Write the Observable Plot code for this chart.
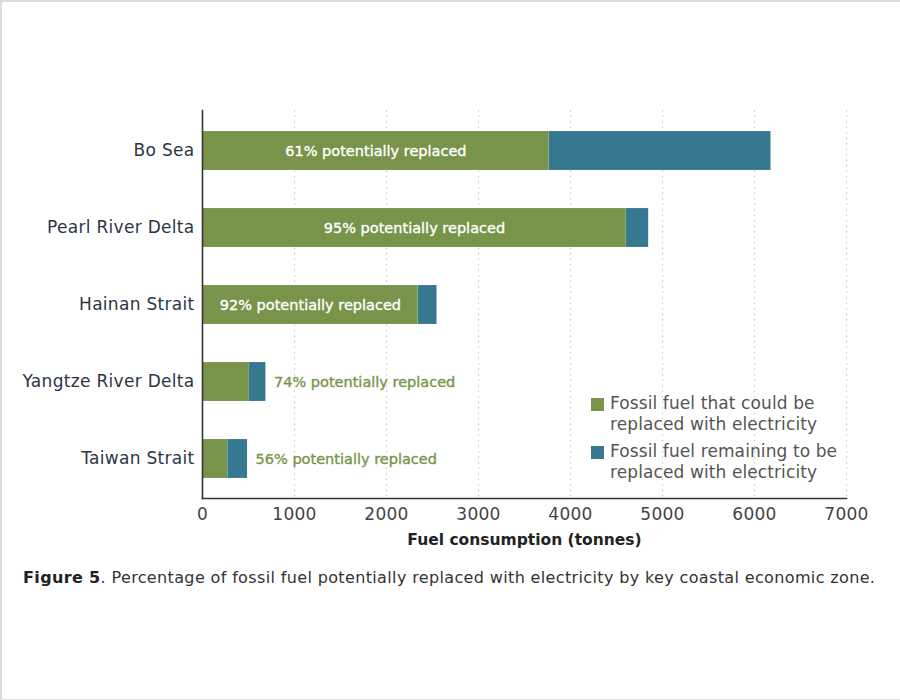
<!DOCTYPE html>
<html>
<head>
<meta charset="utf-8">
<script src="https://cdn.jsdelivr.net/npm/d3@7"></script>
<script src="https://cdn.jsdelivr.net/npm/@observablehq/plot@0.6"></script>
<style>
  html, body { margin: 0; padding: 0; background: #fff; }
  #frame {
    position: relative; width: 898px; height: 697px; background: #fff;
    border-top: 2px solid #dcdcdc; border-left: 2px solid #dcdcdc; border-bottom: 2px solid #dcdcdc;
    font-family: "DejaVu Sans", "Open Sans", sans-serif; overflow: hidden;
  }
  #chart { position: absolute; left: -2px; top: -2px; }
  #legend { position: absolute; left: 589px; top: 391px; font-size: 17px; letter-spacing: 0.1px; color: #555; line-height: 21px; }
  #legend .row { display: flex; align-items: flex-start; margin-bottom: 6px; }
  #legend .sw { width: 13px; height: 13px; margin: 5px 6px 0 0; flex: none; }
  #caption { position: absolute; left: 21px; top: 566px; font-size: 16px; letter-spacing: 0.36px; color: #333; }
  #caption b { color: #222; }
</style>
</head>
<body>
<div id="frame">
  <div id="chart"></div>
  <div id="legend"></div>
  <div id="caption"><b>Figure 5</b>. Percentage of fossil fuel potentially replaced with electricity by key coastal economic zone.</div>
</div>
<script>
// Key coastal economic zones, top to bottom
const zones = ["Bo Sea", "Pearl River Delta", "Hainan Strait", "Yangtze River Delta", "Taiwan Strait"];
// Total fossil fuel consumption per zone (tonnes)
const totals = [6180, 4850, 2550, 690, 490];
// Share of that fuel that could be replaced with electricity (%)
const shares = [61, 95, 92, 74, 56];
// Series names and colours
const parts = ["Fossil fuel that could be replaced with electricity", "Fossil fuel remaining to be replaced with electricity"];
const partColors = ["#77944a", "#35788f"];
const xTicks = [0, 1000, 2000, 3000, 4000, 5000, 6000, 7000];

const rows = [];
const labels = [];
zones.forEach((z, i) => {
  const replaced = totals[i] * shares[i] / 100;
  rows.push({zone: z, part: parts[0], value: replaced});
  rows.push({zone: z, part: parts[1], value: totals[i] - replaced});
  labels.push({zone: z, replaced, total: totals[i], text: `${shares[i]}% potentially replaced`, inside: replaced > 1500});
});

const font = "'DejaVu Sans', 'Open Sans', sans-serif";

const chart = Plot.plot({
  width: 900,
  height: 562,
  marginTop: 110,
  marginBottom: 64,
  marginLeft: 202,
  marginRight: 54,
  style: {fontFamily: font, background: "transparent"},
  x: {domain: [0, 7000], ticks: xTicks, label: null},
  y: {domain: zones, paddingInner: 0.5, paddingOuter: 0.25, label: null},
  color: {domain: parts, range: partColors},
  marks: [
    Plot.ruleX(xTicks.slice(1), {stroke: "#c8c8c8", strokeDasharray: "1.5,4", strokeWidth: 1.2}),
    Plot.barX(rows, {y: "zone", x: "value", fill: "part", stroke: "#ffffff", strokeOpacity: 0.25, strokeWidth: 0.5}),
    Plot.text(labels.filter(d => d.inside), {
      y: "zone", x: d => d.replaced / 2, text: "text",
      fill: "#ffffff", stroke: "#ffffff", strokeWidth: 0.35, fontSize: 14.5
    }),
    Plot.text(labels.filter(d => !d.inside), {
      y: "zone", x: "total", dx: 8, textAnchor: "start", text: "text",
      fill: "#77944a", stroke: "#77944a", strokeWidth: 0.35, fontSize: 14.5
    }),
    Plot.axisX({ticks: xTicks, tickFormat: d => String(d), tickSize: 0, tickPadding: 9, fontSize: 17, fill: "#444", label: null}),
    Plot.axisY({tickSize: 0, tickPadding: 8, fontSize: 17, fill: "#2b3645", label: null}),
    Plot.text(["Fuel consumption (tonnes)"], {
      frameAnchor: "bottom", dy: 46, fontSize: 15.5, fontWeight: 700, fill: "#222"
    }),
    Plot.frame({anchor: "bottom", stroke: "#333", strokeWidth: 1.6}),
    Plot.frame({anchor: "left", stroke: "#333", strokeWidth: 1.6})
  ]
});
document.getElementById("chart").appendChild(chart);
chart.querySelectorAll("g[aria-label='y-axis tick label'] text, g[aria-label='x-axis tick label'] text")
  .forEach(t => t.setAttribute("letter-spacing", "0.3"));

const legend = document.getElementById("legend");
const legendLines = [["Fossil fuel that could be", "replaced with electricity"], ["Fossil fuel remaining to be", "replaced with electricity"]];
parts.forEach((p, i) => {
  const row = document.createElement("div");
  row.className = "row";
  row.innerHTML = `<div class="sw" style="background:${partColors[i]}"></div><div>${legendLines[i].join("<br>")}</div>`;
  legend.appendChild(row);
});
</script>
</body>
</html>
